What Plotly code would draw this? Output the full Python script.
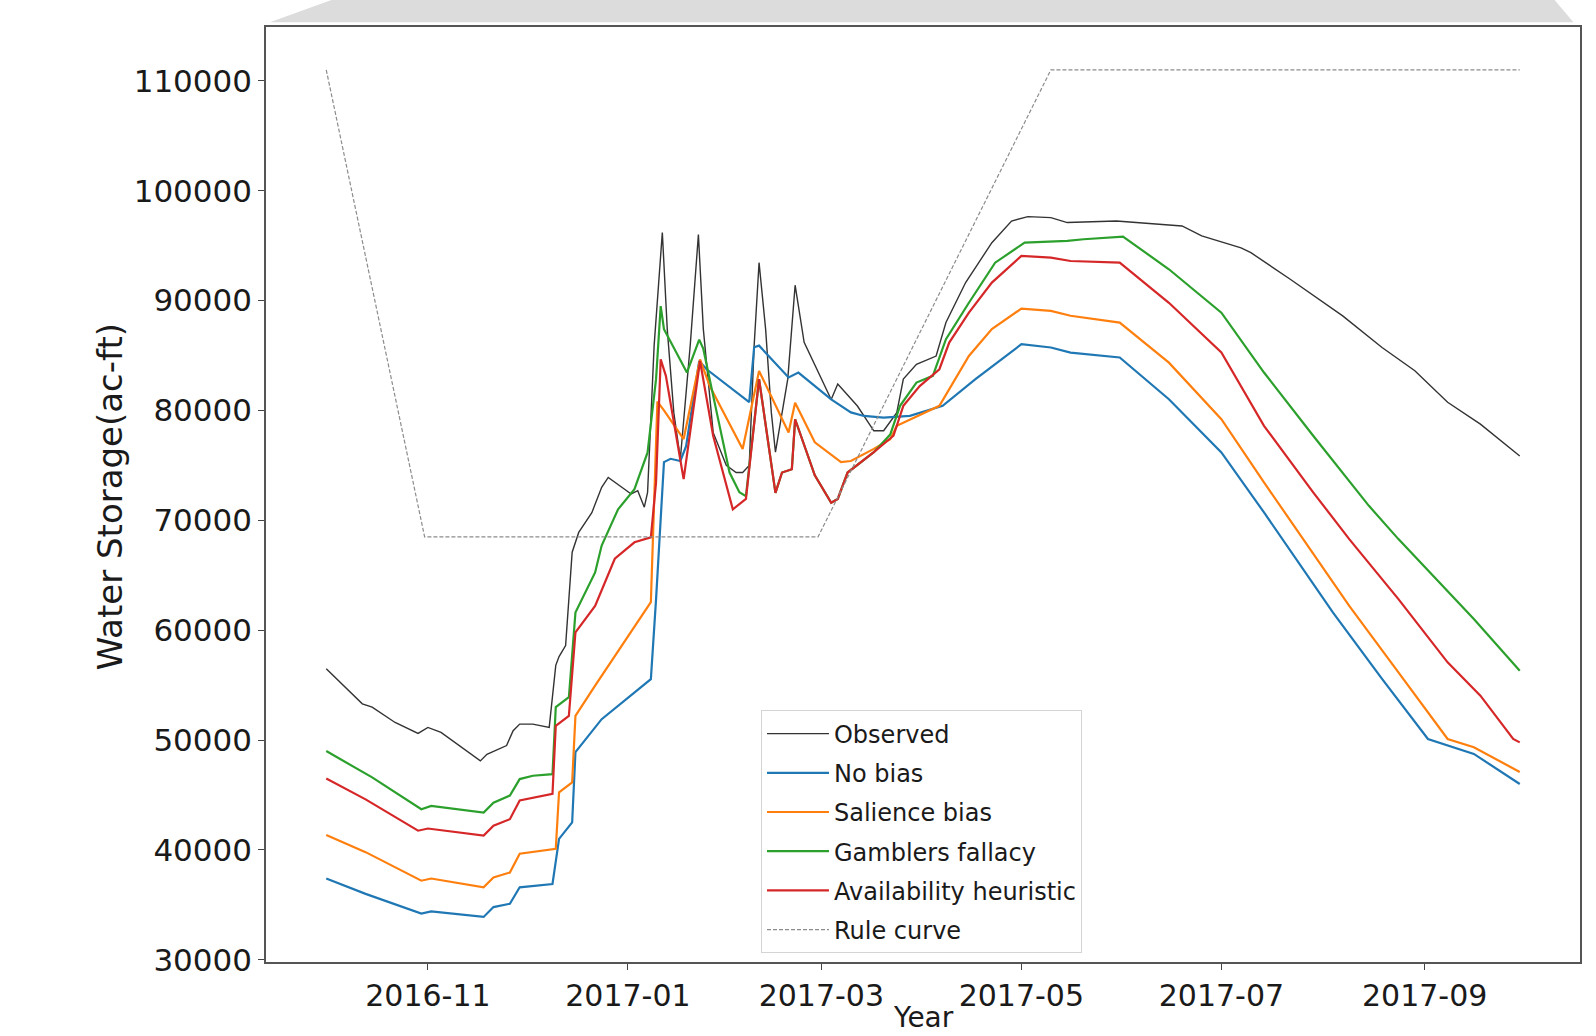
import plotly.graph_objects as go

# ---------------- data ----------------
obs_dates = ["2016-10-01","2016-10-12","2016-10-15","2016-10-22","2016-10-29","2016-11-01","2016-11-05",
             "2016-11-17","2016-11-19","2016-11-25","2016-11-27","2016-11-29","2016-12-03","2016-12-08",
             "2016-12-10","2016-12-11","2016-12-13","2016-12-15","2016-12-17","2016-12-21","2016-12-24",
             "2016-12-26","2017-01-02","2017-01-04","2017-01-06","2017-01-07","2017-01-09","2017-01-11 12:00",
             "2017-01-13","2017-01-15","2017-01-17","2017-01-20","2017-01-22 12:00","2017-01-24","2017-01-27",
             "2017-01-31","2017-02-03","2017-02-05","2017-02-07","2017-02-08 12:00","2017-02-10","2017-02-12",
             "2017-02-13 18:00","2017-02-15","2017-02-18 18:00","2017-02-21","2017-02-23 18:00","2017-02-28",
             "2017-03-04","2017-03-06","2017-03-12","2017-03-17","2017-03-20","2017-03-24","2017-03-26",
             "2017-03-30","2017-04-05","2017-04-08","2017-04-14","2017-04-22","2017-04-28","2017-05-03",
             "2017-05-10","2017-05-15","2017-05-30","2017-06-14","2017-06-19","2017-06-25","2017-07-07",
             "2017-07-10","2017-07-22","2017-08-07","2017-08-19","2017-08-29","2017-09-08","2017-09-18",
             "2017-09-30"]
obs_vals = [56500,53300,53000,51600,50600,51150,50700,
            48100,48700,49500,50850,51450,51450,51150,
            56800,57600,58600,67100,68900,70700,73000,
            73900,72400,72700,71200,72550,85900,96200,
            87400,79800,75600,85900,96000,87400,78000,
            75000,74350,74350,75000,85900,93450,87400,
            79800,76200,82850,91400,86200,83500,
            81000,82400,80400,78150,78150,79800,82850,
            84200,84950,88000,91640,95270,97240,97640,
            97550,97100,97240,96900,96790,95880,94800,
            94360,91940,88610,85730,83610,80740,78750,
            75860]

nobias_dates = ["2016-10-01","2016-10-13","2016-10-30","2016-11-02","2016-11-18","2016-11-21","2016-11-26",
                "2016-11-29","2016-12-09","2016-12-11","2016-12-15","2016-12-16","2016-12-24","2017-01-08",
                "2017-01-09 14:00","2017-01-12","2017-01-14","2017-01-17","2017-01-18 18:00","2017-01-22 18:00",
                "2017-01-25","2017-02-07","2017-02-08 12:00","2017-02-10","2017-02-19","2017-02-22","2017-03-04",
                "2017-03-10","2017-03-14","2017-03-20","2017-03-28","2017-04-07","2017-04-17","2017-05-01",
                "2017-05-10","2017-05-16","2017-05-31","2017-06-15","2017-07-01","2017-07-14","2017-08-04",
                "2017-08-19","2017-09-02","2017-09-08","2017-09-16","2017-09-30"]
nobias_vals = [37400,36000,34200,34400,33900,34800,35100,
               36600,36900,41000,42500,48900,51900,55550,
               62800,75300,75600,75400,76750,84500,
               83750,80750,85750,85900,83000,83450,81000,
               79820,79500,79350,79510,80420,82850,86030,
               85730,85270,84820,81020,76180,70720,61620,
               55560,50100,49490,48740,46000]

salience_dates = ["2016-10-01","2016-10-13","2016-10-30","2016-11-02","2016-11-18","2016-11-21","2016-11-26",
                  "2016-11-29","2016-12-10","2016-12-11","2016-12-15","2016-12-16","2016-12-22","2017-01-08",
                  "2017-01-10","2017-01-12","2017-01-18","2017-01-23","2017-01-26","2017-02-05","2017-02-10",
                  "2017-02-19","2017-02-21","2017-02-27","2017-03-07","2017-03-10","2017-03-17","2017-03-22",
                  "2017-03-24","2017-04-06","2017-04-15","2017-04-22","2017-05-01","2017-05-10","2017-05-16",
                  "2017-05-31","2017-06-15","2017-07-01","2017-07-14","2017-08-09","2017-08-24","2017-09-08",
                  "2017-09-16","2017-09-30"]
salience_vals = [41350,39800,37200,37400,36600,37500,37950,
                 39650,40100,45250,46150,52200,54950,62550,
                 80800,80000,77400,84650,82200,76500,83600,
                 78000,80700,77100,75300,75400,76500,77390,
                 78600,80420,84960,87400,89270,89060,88620,
                 88000,84350,79200,73450,62220,56160,50100,
                 49340,47100]

gambler_dates = ["2016-10-01","2016-10-13","2016-10-15","2016-10-30","2016-11-02","2016-11-18","2016-11-21",
                 "2016-11-26","2016-11-29","2016-12-03","2016-12-09","2016-12-10","2016-12-14","2016-12-16",
                 "2016-12-22","2016-12-24","2016-12-29","2017-01-03","2017-01-07","2017-01-09 14:00","2017-01-11",
                 "2017-01-12","2017-01-19","2017-01-22 18:00","2017-01-24","2017-01-27","2017-02-01","2017-02-04",
                 "2017-02-06","2017-02-10","2017-02-15","2017-02-17","2017-02-20","2017-02-21","2017-02-27",
                 "2017-03-04","2017-03-06","2017-03-09","2017-03-17","2017-03-22","2017-03-25","2017-03-30",
                 "2017-04-04","2017-04-08","2017-04-15","2017-04-23","2017-05-02","2017-05-15","2017-05-20",
                 "2017-06-01","2017-06-15","2017-07-01","2017-07-14","2017-07-29","2017-08-15","2017-08-24",
                 "2017-09-04","2017-09-16","2017-09-30"]
gambler_vals = [49000,46900,46600,43700,44000,43400,44300,
                44950,46450,46750,46900,53000,53900,61600,
                65260,67700,71000,72840,76180,82850,89500,
                87400,83450,86450,85600,81350,74350,72550,
                72200,82850,72500,74350,74650,79200,74100,
                71600,71950,74350,76200,77800,80420,82540,
                83150,86480,89800,93450,95270,95430,95580,
                95820,92850,88900,83450,77700,71320,68290,
                64800,61020,56310]

avail_dates = ["2016-10-01","2016-10-13","2016-10-29","2016-11-01","2016-11-18","2016-11-21","2016-11-26",
               "2016-11-29","2016-12-09","2016-12-10","2016-12-14","2016-12-16","2016-12-22","2016-12-28",
               "2017-01-03","2017-01-08","2017-01-09 14:00","2017-01-11","2017-01-12 14:00","2017-01-18",
               "2017-01-23","2017-01-27","2017-02-02","2017-02-06","2017-02-10","2017-02-15","2017-02-17",
               "2017-02-20","2017-02-21","2017-02-27","2017-03-04","2017-03-06","2017-03-09","2017-03-17",
               "2017-03-23","2017-03-26","2017-03-31","2017-04-06","2017-04-09","2017-04-15","2017-04-22",
               "2017-05-01","2017-05-10","2017-05-16","2017-05-31","2017-06-15","2017-07-01","2017-07-14",
               "2017-07-29","2017-08-09","2017-08-24","2017-09-08","2017-09-18","2017-09-28","2017-09-30"]
avail_vals = [46500,44600,41750,41950,41300,42200,42800,
              44500,45100,51300,52200,59800,62200,66500,
              68000,68450,73450,84650,83150,73750,
              84500,77700,71000,71950,82850,72500,74350,
              74650,79200,74100,71600,71950,74350,76200,
              77700,80420,82220,83750,86180,88900,91640,
              94060,93910,93600,93450,89800,85270,78600,
              72550,68290,62830,57070,54040,50100,49790]

rule_dates = ["2016-10-01","2016-10-31","2017-02-28","2017-05-10","2017-09-30"]
rule_vals = [111000,68500,68500,111000,111000]

x_tick_vals = ["2016-11-01","2017-01-01","2017-03-01","2017-05-01","2017-07-01","2017-09-01"]
x_tick_text = ["2016-11","2017-01","2017-03","2017-05","2017-07","2017-09"]
y_tick_vals = [30000,40000,50000,60000,70000,80000,90000,100000,110000]

series = [
    ("Observed", obs_dates, obs_vals, "#333333", 1.4, "solid"),
    ("No bias", nobias_dates, nobias_vals, "#1f77b4", 2.2, "solid"),
    ("Salience bias", salience_dates, salience_vals, "#ff7f0e", 2.2, "solid"),
    ("Gamblers fallacy", gambler_dates, gambler_vals, "#2ca02c", 2.2, "solid"),
    ("Availability heuristic", avail_dates, avail_vals, "#d62728", 2.2, "solid"),
    ("Rule curve", rule_dates, rule_vals, "#8c8c8c", 1.2, "4px,2px"),
]

FONT = "DejaVu Sans"
fig = go.Figure()
for i, (name, xs, ys, col, w, dash) in enumerate(series):
    fig.add_trace(go.Scatter(x=xs, y=ys, mode="lines", name=name, legendgroup=f"g{i}",
                             line=dict(color=col, width=w, dash=dash)))

fig.update_layout(
    width=1596, height=1036,
    margin=dict(l=266, r=16, t=27, b=74),
    paper_bgcolor="white", plot_bgcolor="white",
    font=dict(family=FONT, color="#1a1a1a"),
    showlegend=True,
    legend=dict(x=0.3767, y=0.269, xanchor="left", yanchor="top",
                bgcolor="white", bordercolor="#d4d4d4", borderwidth=1,
                font=dict(family=FONT, size=24, color="#1a1a1a"),
                itemwidth=62,
                tracegroupgap=5, traceorder="grouped"),
    xaxis=dict(type="date", range=["2016-09-12 15:00", "2017-10-18 09:00"],
               tickvals=x_tick_vals, ticktext=x_tick_text,
               ticks="outside", ticklen=6, tickwidth=1.2, tickcolor="#444",
               tickfont=dict(family=FONT, size=30, color="#1a1a1a"),
               showgrid=False, zeroline=False,
               showline=True, linecolor="#555", linewidth=1.6, mirror=True),
    yaxis=dict(range=[29800, 114900], tickvals=y_tick_vals, tickformat="d",
               ticks="outside", ticklen=6, tickwidth=1.2, tickcolor="#444",
               tickfont=dict(family=FONT, size=31, color="#1a1a1a"),
               showgrid=False, zeroline=False,
               showline=True, linecolor="#555", linewidth=1.6, mirror=True),
    annotations=[
        dict(text="Water Storage(ac-ft)", xref="paper", yref="paper", x=-0.1187, y=0.497,
             xanchor="center", yanchor="middle", textangle=-90, showarrow=False,
             font=dict(family=FONT, size=34, color="#1a1a1a")),
        dict(text="Year", xref="paper", yref="paper", x=0.5, y=-0.0792,
             xanchor="center", yanchor="bottom", showarrow=False,
             font=dict(family=FONT, size=28, color="#1a1a1a")),
    ],
    shapes=[
        dict(type="path", xref="paper", yref="paper",
             path="M 0.003,1.005 L 0.052,1.03 L 0.98,1.03 L 0.995,1.005 Z",
             fillcolor="#dcdcdc", line=dict(width=0), layer="below"),
    ],
)

fig.write_html("out.html", config={"displayModeBar": False},
               post_script="document.body.style.margin='0';document.body.style.overflow='hidden';")
